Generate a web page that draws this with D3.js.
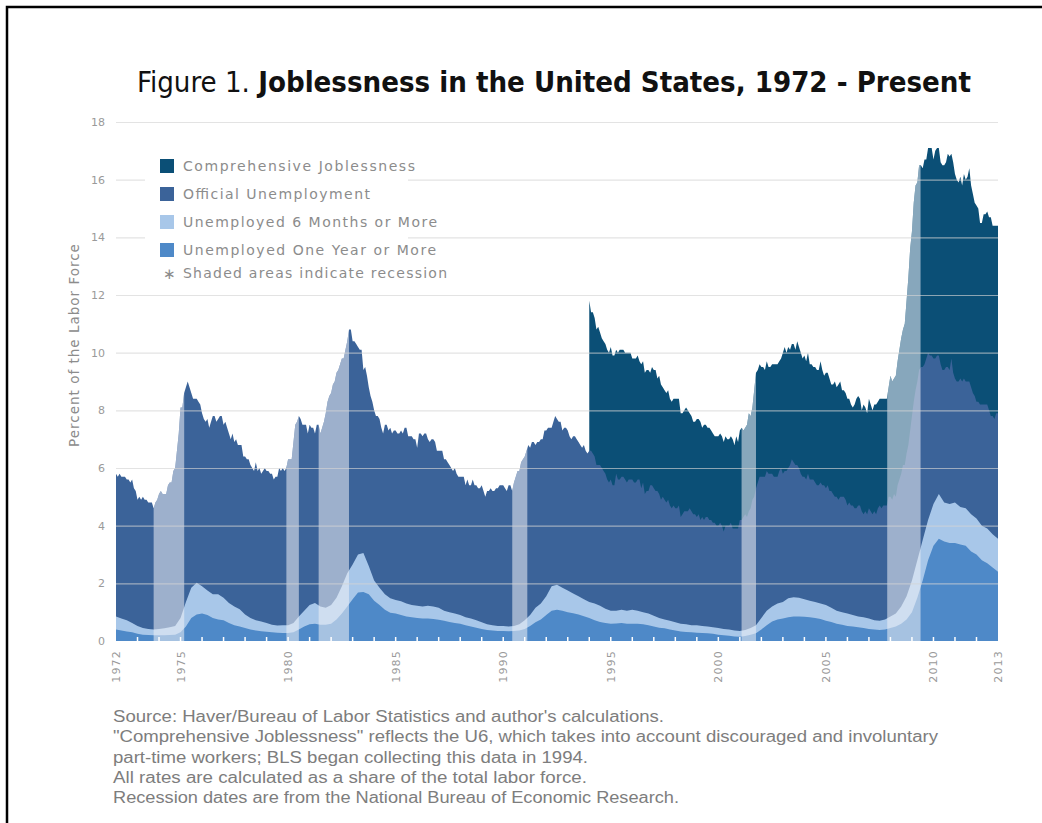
<!DOCTYPE html>
<html><head><meta charset="utf-8">
<script src="https://cdn.jsdelivr.net/npm/d3@7"></script>
<style>body{margin:0;background:#fff;} svg{display:block;}</style>
</head><body>
<svg id="c" width="1042" height="823"></svg>
<script>
// ---------- DATA ----------
// Official unemployment rate, monthly, Jan 1972 - Jan 2013 (%)
const officialStart = 1972;
const officialRate = [
5.8,5.7,5.8,5.7,5.7,5.7,5.6,5.6,5.5,5.6,5.3,5.2,
4.9,5.0,4.9,5.0,4.9,4.9,4.8,4.8,4.8,4.6,4.8,4.9,
5.1,5.2,5.1,5.1,5.1,5.4,5.5,5.5,5.9,6.0,6.6,7.2,
8.1,8.1,8.6,8.8,9.0,8.8,8.6,8.4,8.4,8.4,8.3,8.2,
7.9,7.7,7.6,7.7,7.4,7.6,7.8,7.8,7.6,7.7,7.8,7.8,
7.5,7.6,7.4,7.2,7.0,7.2,6.9,7.0,6.8,6.8,6.8,6.4,
6.4,6.3,6.3,6.1,6.0,5.9,6.2,5.9,6.0,5.8,5.9,6.0,
5.9,5.9,5.8,5.8,5.6,5.7,5.7,6.0,5.9,6.0,5.9,6.0,
6.3,6.3,6.3,6.9,7.5,7.6,7.8,7.7,7.5,7.5,7.5,7.2,
7.5,7.4,7.4,7.2,7.5,7.5,7.2,7.4,7.6,7.9,8.3,8.5,
8.6,8.9,9.0,9.3,9.4,9.6,9.8,9.8,10.1,10.4,10.8,10.8,
10.4,10.4,10.3,10.2,10.1,10.1,9.4,9.5,9.2,8.8,8.5,8.3,
8.0,7.8,7.8,7.7,7.4,7.2,7.5,7.5,7.3,7.4,7.2,7.3,
7.3,7.2,7.2,7.3,7.2,7.4,7.4,7.1,7.1,7.1,7.0,7.0,
6.7,7.2,7.2,7.1,7.2,7.2,7.0,6.9,7.0,7.0,6.9,6.6,
6.6,6.6,6.6,6.3,6.3,6.2,6.1,6.0,5.9,6.0,5.8,5.7,
5.7,5.7,5.7,5.4,5.6,5.4,5.4,5.6,5.4,5.4,5.3,5.3,
5.4,5.2,5.0,5.2,5.2,5.3,5.2,5.2,5.3,5.3,5.4,5.4,
5.4,5.3,5.2,5.4,5.4,5.2,5.5,5.7,5.9,5.9,6.2,6.3,
6.4,6.6,6.8,6.7,6.9,6.9,6.8,6.9,6.9,7.0,7.0,7.3,
7.3,7.4,7.4,7.4,7.6,7.8,7.7,7.6,7.6,7.3,7.4,7.4,
7.3,7.1,7.0,7.1,7.1,7.0,6.9,6.8,6.7,6.8,6.6,6.5,
6.6,6.6,6.5,6.4,6.1,6.1,6.1,6.0,5.9,5.8,5.6,5.5,
5.6,5.4,5.4,5.8,5.6,5.6,5.7,5.7,5.6,5.5,5.6,5.6,
5.6,5.5,5.5,5.6,5.6,5.3,5.5,5.1,5.2,5.2,5.4,5.4,
5.3,5.2,5.2,5.1,4.9,5.0,4.9,4.8,4.9,4.7,4.6,4.7,
4.6,4.6,4.7,4.3,4.4,4.5,4.5,4.5,4.6,4.5,4.4,4.4,
4.3,4.4,4.2,4.3,4.2,4.3,4.3,4.2,4.2,4.1,4.1,4.0,
4.0,4.1,4.0,3.8,4.0,4.0,4.0,4.1,3.9,3.9,3.9,3.9,
4.2,4.2,4.3,4.4,4.3,4.5,4.6,4.9,5.0,5.3,5.5,5.7,
5.7,5.7,5.7,5.9,5.8,5.8,5.8,5.7,5.7,5.7,5.9,6.0,
5.8,5.9,5.9,6.0,6.1,6.3,6.2,6.1,6.1,6.0,5.8,5.7,
5.7,5.6,5.8,5.6,5.6,5.6,5.5,5.4,5.4,5.5,5.4,5.4,
5.3,5.4,5.2,5.2,5.1,5.0,5.0,4.9,5.0,5.0,5.0,4.9,
4.7,4.8,4.7,4.7,4.6,4.6,4.7,4.7,4.5,4.4,4.5,4.4,
4.6,4.5,4.4,4.5,4.4,4.6,4.7,4.6,4.7,4.7,4.7,5.0,
5.0,4.9,5.1,5.0,5.4,5.6,5.8,6.1,6.1,6.5,6.8,7.3,
7.8,8.3,8.7,9.0,9.4,9.5,9.5,9.6,9.8,10.0,9.9,9.9,
9.8,9.8,9.9,9.9,9.6,9.4,9.4,9.5,9.5,9.4,9.8,9.3,
9.1,9.0,9.0,9.1,9.0,9.1,9.0,9.0,9.0,8.8,8.6,8.5,
8.3,8.3,8.2,8.2,8.2,8.2,8.2,8.0,7.8,7.8,7.7,7.9,
7.9];

// Comprehensive joblessness (U6), monthly, Jan 1994 - Jan 2013 (%)
const u6Start = 1994;
const u6Rate = [
11.8,11.4,11.4,11.2,10.8,10.9,10.7,10.5,10.4,10.3,10.1,10.0,
10.2,9.9,9.9,10.1,10.0,10.1,10.1,10.1,10.0,10.0,10.0,10.0,
9.8,9.8,9.8,9.9,9.7,9.6,9.7,9.3,9.4,9.4,9.3,9.5,
9.4,9.4,9.1,9.2,8.9,8.8,8.7,8.6,8.7,8.4,8.3,8.4,
8.4,8.4,8.4,7.9,7.9,8.0,8.1,8.0,7.9,7.8,7.6,7.6,
7.7,7.7,7.6,7.4,7.5,7.5,7.4,7.4,7.3,7.2,7.1,7.1,
7.1,7.2,7.1,6.9,7.1,7.0,7.0,7.1,7.0,6.8,7.1,6.9,
7.3,7.4,7.3,7.4,7.5,7.9,7.8,8.1,8.7,9.3,9.4,9.6,
9.5,9.5,9.4,9.7,9.5,9.5,9.6,9.6,9.6,9.6,9.7,9.8,
10.0,10.2,10.0,10.2,10.1,10.3,10.3,10.1,10.4,10.2,10.0,9.8,
9.9,9.7,10.0,9.6,9.6,9.5,9.5,9.4,9.4,9.7,9.4,9.2,
9.3,9.3,9.1,8.9,8.9,9.0,8.8,8.9,9.0,8.7,8.7,8.6,
8.4,8.4,8.2,8.1,8.2,8.4,8.5,8.4,8.0,8.2,8.1,7.9,
8.4,8.2,8.0,8.2,8.2,8.3,8.4,8.4,8.4,8.4,8.4,8.8,
9.2,9.0,9.1,9.2,9.7,10.1,10.5,10.8,11.0,11.8,12.6,13.6,
14.2,15.2,15.8,15.9,16.5,16.5,16.4,16.7,16.7,17.1,17.1,17.1,
16.7,17.0,17.1,17.1,16.6,16.5,16.5,16.6,16.9,16.8,16.9,16.6,
16.2,16.0,15.9,16.1,15.8,16.2,16.0,16.1,16.4,15.8,15.5,15.2,
15.1,15.0,14.5,14.5,14.8,14.8,14.9,14.7,14.7,14.4,14.4,14.4,
14.4];

// Unemployed 6 months or more, quarterly, 1972Q1 - 2013Q1 (% of labor force)
const longStart = 1972;
const sixMonthRate = [
0.85,0.78,0.72,0.62, 0.52,0.45,0.42,0.40, 0.42,0.44,0.48,0.52,
0.80,1.35,1.85,2.02, 1.90,1.75,1.62,1.62, 1.50,1.32,1.20,1.10,
0.92,0.80,0.72,0.68, 0.62,0.56,0.54,0.55, 0.55,0.62,0.85,1.05,
1.25,1.32,1.20,1.15, 1.25,1.50,1.90,2.35, 2.65,3.00,3.05,2.60,
2.10,1.85,1.62,1.48, 1.42,1.38,1.30,1.25, 1.22,1.20,1.22,1.20,
1.15,1.05,1.00,0.95, 0.90,0.82,0.78,0.72, 0.65,0.58,0.55,0.52,
0.52,0.50,0.52,0.58, 0.72,0.90,1.15,1.30, 1.55,1.90,1.95,1.85,
1.75,1.65,1.55,1.45, 1.35,1.30,1.22,1.12, 1.05,1.05,1.08,1.05,
1.08,1.05,1.00,0.95, 0.88,0.80,0.75,0.70, 0.65,0.60,0.58,0.55,
0.55,0.52,0.50,0.48, 0.45,0.42,0.40,0.36, 0.35,0.38,0.45,0.55,
0.80,1.05,1.20,1.30, 1.35,1.48,1.52,1.50, 1.45,1.40,1.35,1.30,
1.25,1.15,1.05,1.00, 0.95,0.90,0.85,0.82, 0.78,0.72,0.70,0.75,
0.85,0.95,1.20,1.55, 2.10,2.80,3.50,4.20, 4.75,5.10,4.80,4.75,
4.80,4.65,4.60,4.40, 4.25,4.00,3.90,3.70, 3.55];

// Unemployed one year or more, quarterly, 1972Q1 - 2013Q1 (% of labor force)
const oneYearRate = [
0.40,0.36,0.33,0.30, 0.25,0.22,0.21,0.20, 0.20,0.20,0.21,0.22,
0.30,0.50,0.80,0.92, 0.95,0.90,0.80,0.75, 0.72,0.62,0.55,0.50,
0.45,0.40,0.36,0.34, 0.32,0.30,0.29,0.28, 0.28,0.30,0.40,0.50,
0.58,0.60,0.56,0.56, 0.60,0.75,0.95,1.20, 1.45,1.68,1.70,1.62,
1.40,1.25,1.08,0.98, 0.95,0.90,0.85,0.82, 0.80,0.78,0.78,0.76,
0.74,0.70,0.66,0.62, 0.60,0.55,0.50,0.46, 0.42,0.38,0.36,0.35,
0.35,0.34,0.35,0.36, 0.42,0.52,0.65,0.75, 0.90,1.05,1.08,1.05,
1.00,0.96,0.92,0.86, 0.80,0.72,0.66,0.62, 0.60,0.61,0.62,0.60,
0.60,0.60,0.58,0.55, 0.50,0.46,0.44,0.40, 0.36,0.33,0.31,0.30,
0.29,0.28,0.27,0.25, 0.22,0.20,0.18,0.16, 0.15,0.17,0.22,0.27,
0.40,0.55,0.68,0.75, 0.78,0.82,0.85,0.85, 0.84,0.82,0.80,0.76,
0.70,0.66,0.60,0.56, 0.52,0.50,0.48,0.45, 0.42,0.40,0.38,0.40,
0.45,0.50,0.60,0.75, 1.00,1.50,2.10,2.80, 3.30,3.55,3.45,3.40,
3.40,3.35,3.30,3.10, 3.00,2.80,2.70,2.55, 2.40];

// NBER recessions (start, end) in decimal years
const recessions = [[1973.75,1975.17],[1979.92,1980.5],[1981.42,1982.83],[1990.42,1991.12],[2001.08,2001.75],[2007.85,2009.4]];

const yTicks = [0,2,4,6,8,10,12,14,16,18];
const xLabelYears = [1972,1975,1980,1985,1990,1995,2000,2005,2010,2013];

const legendLabels = ["Comprehensive Joblessness","Official Unemployment","Unemployed 6 Months or More","Unemployed One Year or More"];
const legendColors = ["#0b4f76","#3b6399","#a8c7e9","#4e89c8"];
const recessionNote = "Shaded areas indicate recession";

const titleLead = "Figure 1. ";
const titleMain = "Joblessness in the United States, 1972 - Present";
const yTitle = "Percent of the Labor Force";
const footnotes = [
 "Source: Haver/Bureau of Labor Statistics and author's calculations.",
 "\"Comprehensive Joblessness\" reflects the U6, which takes into account discouraged and involuntary",
 "part-time workers; BLS began collecting this data in 1994.",
 "All rates are calculated as a share of the total labor force.",
 "Recession dates are from the National Bureau of Economic Research."
];

// ---------- CHART ----------
const svg = d3.select('#c');
const x = d3.scaleLinear().domain([1972, 2013]).range([116, 998]);
const y = d3.scaleLinear().domain([0, 18]).range([641, 122]);

const officialPts = officialRate.map((v,i)=>({t: officialStart + i/12, v}));
const u6Pts = u6Rate.map((v,i)=>({t: u6Start + i/12, v}));
const sixPts = sixMonthRate.map((v,i)=>({t: longStart + i/4, v}));
const onePts = oneYearRate.map((v,i)=>({t: longStart + i/4, v}));
const u6Offset = (u6Start - officialStart)*12;
const envelope = officialPts.map((d,i)=>{
  const j = i - u6Offset;
  return {t: d.t, v: (j >= 0 && j < u6Rate.length) ? Math.max(d.v, u6Rate[j]) : d.v};
});

const area = d3.area().x(d=>x(d.t)).y0(y(0)).y1(d=>y(d.v));

// frame border (top and left)
svg.append('path').attr('d','M7,823V7H1042').attr('fill','none').attr('stroke','#000').attr('stroke-width',2.5);

const defs = svg.append('defs');
defs.append('clipPath').attr('id','env').append('path').attr('d', area(envelope));

svg.append('path').attr('d', area(u6Pts)).attr('fill', legendColors[0]);
svg.append('path').attr('d', area(officialPts)).attr('fill', legendColors[1]);
svg.append('path').attr('d', area(sixPts)).attr('fill', legendColors[2]);
svg.append('path').attr('d', area(onePts)).attr('fill', legendColors[3]);

// recession shading clipped to the data envelope
svg.append('g').attr('clip-path','url(#env)').selectAll('rect').data(recessions).join('rect')
  .attr('x', d=>x(d[0])).attr('width', d=>x(d[1])-x(d[0]))
  .attr('y', y(18)).attr('height', y(0)-y(18))
  .attr('fill', '#eef1f5').attr('fill-opacity', 0.55);

// gridlines
svg.append('g').selectAll('line').data(yTicks.filter(d=>d>0)).join('line')
  .attr('x1', x(1972)).attr('x2', x(2013))
  .attr('y1', d=>y(d)+0.5).attr('y2', d=>y(d)+0.5)
  .attr('stroke', '#d4d4d4').attr('stroke-opacity', 0.65).attr('stroke-width', 1.2);

// y labels
svg.append('g').selectAll('text').data(yTicks).join('text')
  .attr('x', 105).attr('y', d=>y(d)+4).attr('text-anchor','end')
  .attr('font-family','DejaVu Sans, sans-serif').attr('font-size',11).attr('fill','#9a9a9a')
  .text(d=>d);

// year ticks (white, inside baseline)
svg.append('g').selectAll('line').data(d3.range(1973, 2013)).join('line')
  .attr('x1', d=>x(d)).attr('x2', d=>x(d)).attr('y1', y(0)).attr('y2', y(0)-4)
  .attr('stroke','#fff').attr('stroke-width',1.5);

// x labels
svg.append('g').selectAll('text').data(xLabelYears).join('text')
  .attr('transform', d=>`translate(${x(d)+4},650) rotate(-90)`)
  .attr('text-anchor','end')
  .attr('font-family','DejaVu Sans, sans-serif').attr('font-size',11).attr('letter-spacing',1.2).attr('fill','#9a9a9a')
  .text(d=>d);

// y title
svg.append('text').attr('transform','translate(79,345) rotate(-90)').attr('text-anchor','middle')
  .attr('font-family','DejaVu Sans, sans-serif').attr('font-size',13.5).attr('letter-spacing',1).attr('fill','#8c8c8c')
  .text(yTitle);

// legend
const lg = svg.append('g');
lg.append('rect').attr('x',145).attr('y',148).attr('width',263).attr('height',140).attr('fill','#fff');
const legendWidths = [232,187,254,253];
legendLabels.forEach((lab,i)=>{
  const cy = 166 + i*28;
  lg.append('rect').attr('x',160).attr('y',cy-7).attr('width',14).attr('height',14).attr('fill',legendColors[i]);
  lg.append('text').attr('x',183).attr('y',cy+5)
    .attr('font-family','DejaVu Sans, sans-serif').attr('font-size',14).attr('fill','#8c8c8c')
    .attr('textLength', legendWidths[i]).attr('lengthAdjust','spacing')
    .text(lab);
});
lg.append('text').attr('x',163).attr('y',279).attr('font-family','DejaVu Sans, sans-serif').attr('font-size',15).attr('fill','#8c8c8c').text('\u2217');
lg.append('text').attr('x',183).attr('y',278)
  .attr('font-family','DejaVu Sans, sans-serif').attr('font-size',14).attr('fill','#8c8c8c')
  .attr('textLength',264).attr('lengthAdjust','spacing').text(recessionNote);

// title
const tt = svg.append('text').attr('x',137).attr('y',92)
  .attr('font-family','Liberation Sans Narrow, DejaVu Sans Condensed, Liberation Sans, sans-serif')
  .attr('font-size',29).attr('fill','#111')
  .attr('textLength',834).attr('lengthAdjust','spacingAndGlyphs');
tt.append('tspan').attr('font-weight','normal').text(titleLead);
tt.append('tspan').attr('font-weight','bold').text(titleMain);

// footnotes
const fnWidths = [551,825,475,474,566];
svg.append('g').selectAll('text').data(footnotes).join('text')
  .attr('x',113).attr('y',(d,i)=>722 + i*20.3)
  .attr('font-family','Liberation Sans Narrow, Liberation Sans, sans-serif').attr('font-size',16).attr('fill','#7d7d7d')
  .attr('textLength',(d,i)=>fnWidths[i]).attr('lengthAdjust','spacingAndGlyphs')
  .text(d=>d);
</script>
</body></html>
